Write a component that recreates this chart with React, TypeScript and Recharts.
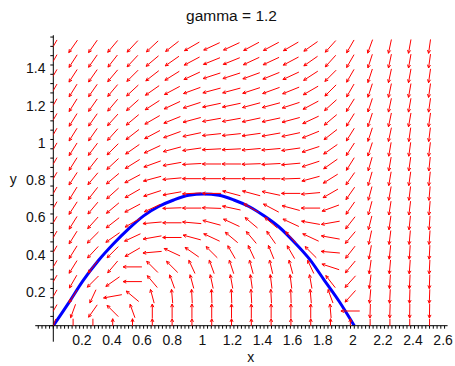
import { ComposedChart, Line, ReferenceLine, Scatter, XAxis, YAxis } from "recharts";

// direction-field grid (20 x 20)
const X_GRID = [
  0, 0.1316, 0.2632, 0.3947, 0.5263, 0.6579, 0.7895, 0.9211, 1.0526, 1.1842,
  1.3158, 1.4474, 1.5789, 1.7105, 1.8421, 1.9737, 2.1053, 2.2368, 2.3684, 2.5,
];
const Y_GRID = [
  0, 0.0789, 0.1579, 0.2368, 0.3158, 0.3947, 0.4737, 0.5526, 0.6316, 0.7105,
  0.7895, 0.8684, 0.9474, 1.0263, 1.1053, 1.1842, 1.2632, 1.3421, 1.4211, 1.5,
];

// arrow direction on screen, degrees (0 = right, 90 = up, 180 = left, 270 = down)
// one row per Y_GRID value, one entry per X_GRID value
const ARROW_ANGLES = [
  [250, 270, 270, 90, 90, 90, 90, 90, 90, 90, 90, 90, 90, 90, 90, 90, 270, 270, 270, 270],
  [240, 250, 235, 135, 110, 90, 90, 90, 90, 90, 90, 90, 90, 90, 95, 180, 268, 268, 269, 269],
  [240, 238, 245, 190, 140, 105, 95, 93, 92, 92, 93, 93, 92, 95, 110, 228, 265, 267, 268, 268],
  [240, 240, 225, 215, 180, 130, 110, 105, 102, 100, 98, 97, 97, 100, 128, 228, 263, 266, 267, 268],
  [240, 238, 232, 230, 180, 135, 135, 115, 110, 108, 105, 103, 105, 115, 162, 230, 262, 265, 266, 267],
  [240, 238, 227, 225, 210, 185, 155, 145, 135, 120, 115, 112, 120, 135, 175, 232, 260, 264, 266, 267],
  [240, 238, 225, 215, 205, 190, 180, 165, 155, 140, 130, 125, 132, 155, 170, 230, 258, 263, 265, 266],
  [240, 238, 228, 218, 210, 185, 180, 175, 165, 155, 140, 140, 155, 170, 190, 232, 256, 262, 264, 266],
  [240, 237, 230, 220, 208, 205, 182, 180, 178, 168, 150, 152, 165, 180, 200, 235, 255, 261, 263, 265],
  [240, 238, 232, 222, 210, 198, 190, 183, 180, 165, 165, 168, 180, 185, 210, 235, 255, 260, 263, 265],
  [240, 237, 230, 220, 208, 195, 185, 180, 180, 180, 180, 180, 182, 195, 212, 235, 254, 260, 262, 264],
  [240, 238, 232, 223, 212, 200, 190, 183, 180, 180, 182, 183, 185, 198, 215, 238, 254, 260, 262, 264],
  [240, 238, 233, 225, 215, 205, 195, 188, 183, 183, 185, 185, 188, 198, 215, 237, 252, 260, 262, 263],
  [240, 238, 235, 228, 218, 208, 200, 192, 186, 186, 188, 190, 192, 202, 218, 238, 252, 258, 262, 263],
  [240, 238, 235, 228, 220, 210, 202, 195, 190, 190, 192, 192, 195, 205, 220, 238, 252, 258, 260, 262],
  [240, 238, 235, 230, 222, 213, 205, 198, 192, 192, 195, 195, 198, 208, 222, 238, 252, 258, 260, 262],
  [240, 238, 235, 230, 223, 215, 208, 200, 195, 195, 198, 200, 202, 210, 225, 240, 252, 258, 260, 262],
  [240, 237, 235, 230, 225, 218, 212, 205, 198, 198, 200, 202, 205, 213, 225, 240, 252, 258, 260, 262],
  [240, 237, 235, 232, 227, 220, 215, 208, 202, 202, 205, 205, 208, 215, 228, 240, 252, 258, 260, 262],
  [240, 235, 235, 230, 227, 223, 218, 210, 205, 205, 208, 208, 210, 215, 228, 240, 250, 258, 260, 262],
];

// blue solution curve
const CURVE_X = [0, 0.1, 0.2, 0.3, 0.4, 0.5, 0.6, 0.7, 0.8, 0.9, 1.0, 1.1, 1.2, 1.3, 1.4, 1.5, 1.6, 1.7, 1.8, 1.9, 2.0];
const CURVE_Y = [0, 0.12, 0.245, 0.35, 0.44, 0.52, 0.59, 0.64, 0.675, 0.7, 0.707, 0.7, 0.675, 0.64, 0.59, 0.53, 0.45, 0.36, 0.245, 0.13, 0];

const X_TICK_LABELS = ["0.2", "0.4", "0.6", "0.8", "1", "1.2", "1.4", "1.6", "1.8", "2", "2.2", "2.4", "2.6"];
const Y_TICK_LABELS = ["0.2", "0.4", "0.6", "0.8", "1", "1.2", "1.4"];

const W = 455;
const H = 366;
const X_MAX = 2.62;
const Y_MAX = 1.56;
const Y_AXIS_W = 53.3;
const X_AXIS_H = 40.3;
const TOP = 35.2;
const RIGHT = 7.4;
const PX_X = (W - Y_AXIS_W - RIGHT) / X_MAX;
const PX_Y = (H - X_AXIS_H - TOP) / Y_MAX;
const CELL_X = (X_GRID[1] - X_GRID[0]) * PX_X;
const CELL_Y = (Y_GRID[1] - Y_GRID[0]) * PX_Y;
const ARROW_SCALE = 0.95;
const FONT = '"Liberation Sans", Arial, sans-serif';

const xMinor = Array.from({ length: 105 }, (_, i) => +(i * 0.025).toFixed(3));
const yMinor = Array.from({ length: 32 }, (_, i) => +(i * 0.05).toFixed(2));

const arrowData = Y_GRID.flatMap((y, k) => X_GRID.map((x, c) => ({ x, y, a: ARROW_ANGLES[k][c] })));
const curveData = CURVE_X.map((x, i) => ({ x, y: CURVE_Y[i] }));

function Arrow(props: any) {
  const { cx, cy, payload } = props;
  if (cx == null || cy == null || !payload) return null;
  const rad = (payload.a * Math.PI) / 180;
  const ux = Math.cos(rad);
  const uy = -Math.sin(rad);
  const ax = 0.5 * ARROW_SCALE * CELL_X;
  const ay = 0.5 * ARROW_SCALE * CELL_Y;
  const half = 1 / Math.sqrt((ux / ax) ** 2 + (uy / ay) ** 2);
  const x1 = cx - ux * half;
  const y1 = cy - uy * half;
  const x2 = cx + ux * half;
  const y2 = cy + uy * half;
  const back = Math.atan2(-uy, -ux);
  const hl = 3.5;
  const p1 = [x2 + hl * Math.cos(back + 0.45), y2 + hl * Math.sin(back + 0.45)];
  const p2 = [x2 + hl * Math.cos(back - 0.45), y2 + hl * Math.sin(back - 0.45)];
  return (
    <g>
      <line x1={x1} y1={y1} x2={x2} y2={y2} stroke="#ff0000" strokeWidth={1} />
      <path d={`M${p1[0]},${p1[1]}L${x2},${y2}L${p2[0]},${p2[1]}`} stroke="#ff0000" strokeWidth={1} fill="none" />
    </g>
  );
}

function XTick(props: any) {
  const { x, y, payload } = props;
  const label = X_TICK_LABELS.find((l) => Math.abs(parseFloat(l) - payload.value) < 1e-6);
  if (!label) return <g />;
  return (
    <text x={x - 1.5} y={y} dy={14.3} textAnchor="middle" fontSize={14} fontFamily={FONT} fill="#111">
      {label}
    </text>
  );
}

function YTick(props: any) {
  const { x, y, payload } = props;
  const label = Y_TICK_LABELS.find((l) => Math.abs(parseFloat(l) - payload.value) < 1e-6);
  if (!label) return <g />;
  return (
    <text x={x - 2.8} y={y} dy={8.3} textAnchor="end" fontSize={14} fontFamily={FONT} fill="#111">
      {label}
    </text>
  );
}

export default function App() {
  return (
    <div style={{ position: "absolute", left: 0, top: 0, width: W, height: H, background: "#fff" }}>
      <ComposedChart width={W} height={H} margin={{ top: TOP, right: RIGHT, bottom: 0, left: 0 }}>
        <XAxis
          type="number"
          dataKey="x"
          domain={[0, X_MAX]}
          ticks={xMinor}
          interval={0}
          height={X_AXIS_H}
          tickSize={3}
          tick={<XTick />}
          stroke="#000"
          allowDataOverflow
        />
        <YAxis
          type="number"
          dataKey="y"
          domain={[0, Y_MAX]}
          ticks={yMinor}
          interval={0}
          width={Y_AXIS_W}
          tickSize={3}
          tick={<YTick />}
          stroke="#000"
          allowDataOverflow
        />
        <ReferenceLine segment={[{ x: -0.12, y: 0 }, { x: 0, y: 0 }]} stroke="#000" ifOverflow="visible" />
        <ReferenceLine segment={[{ x: 0, y: 0 }, { x: 0, y: -0.086 }]} stroke="#000" ifOverflow="visible" />
        {[-0.025, -0.05, -0.075, -0.1].map((v) => (
          <ReferenceLine key={v} segment={[{ x: v, y: 0 }, { x: v, y: -0.016 }]} stroke="#000" ifOverflow="visible" />
        ))}
        <Scatter data={arrowData} dataKey="y" shape={<Arrow />} isAnimationActive={false} />
        <Line
          data={curveData}
          dataKey="y"
          type="monotone"
          stroke="#0000ff"
          strokeWidth={3}
          dot={false}
          activeDot={false}
          isAnimationActive={false}
        />
      </ComposedChart>
      <svg width={W} height={H} style={{ position: "absolute", left: 0, top: 0, pointerEvents: "none" }}>
        <text x={231.5} y={20.5} textAnchor="middle" fontSize={15.5} fontFamily={FONT} fill="#111">
          gamma = 1.2
        </text>
        <text x={250.7} y={361.5} textAnchor="middle" fontSize={14} fontFamily={FONT} fill="#111">
          x
        </text>
        <text x={13.3} y={184} textAnchor="middle" fontSize={14} fontFamily={FONT} fill="#111">
          y
        </text>
      </svg>
    </div>
  );
}
